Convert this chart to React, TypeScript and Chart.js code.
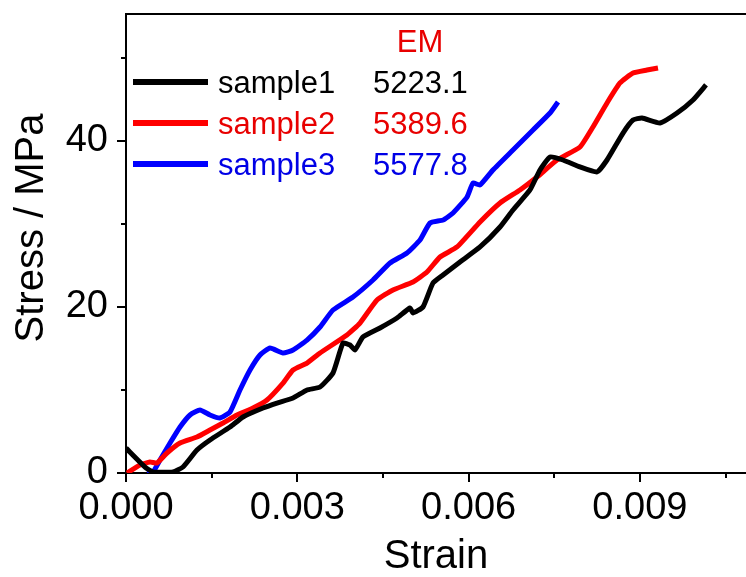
import React, { useEffect, useRef } from 'react';
import { Chart, registerables } from 'chart.js';

Chart.register(...registerables);

const FONT = '"Liberation Sans", Arial, Helvetica, sans-serif';

// sample1 (black)
const s1Strain = [0, 0.000333, 0.000473, 0.000823, 0.000998, 0.001243, 0.001471, 0.001821, 0.002049, 0.002399, 0.002644, 0.002925, 0.00317, 0.003398, 0.003625, 0.0038, 0.003923, 0.00401, 0.004151, 0.004448, 0.004746, 0.004974, 0.005026, 0.005201, 0.005376, 0.005552, 0.005849, 0.0062, 0.00655, 0.006777, 0.007075, 0.00725, 0.007426, 0.007653, 0.007951, 0.008249, 0.008424, 0.008704, 0.008879, 0.009037, 0.009352, 0.00965, 0.00993, 0.010158];
const s1Stress = [3.0, 0.72, 0.12, 0.12, 0.72, 2.77, 3.98, 5.54, 6.75, 7.83, 8.43, 9.04, 10.0, 10.36, 12.05, 15.66, 15.42, 14.82, 16.39, 17.47, 18.67, 19.88, 19.28, 20.0, 22.89, 23.86, 25.42, 27.23, 29.64, 31.69, 34.1, 36.51, 38.07, 37.71, 36.87, 36.27, 37.71, 40.96, 42.53, 42.77, 42.17, 43.37, 44.94, 46.75];

// sample2 (red)
const s2Strain = [0.0000175, 0.000245, 0.00042, 0.000543, 0.000718, 0.000946, 0.001243, 0.001471, 0.001699, 0.001944, 0.002224, 0.002469, 0.00275, 0.002925, 0.00317, 0.003398, 0.00387, 0.004098, 0.004396, 0.004676, 0.005026, 0.005271, 0.005499, 0.005797, 0.0062, 0.00655, 0.0069, 0.007198, 0.007548, 0.007951, 0.008178, 0.008424, 0.008651, 0.008879, 0.009124, 0.009317];
const s2Stress = [0, 0.96, 1.33, 1.2, 2.41, 3.61, 4.34, 5.18, 6.02, 6.99, 7.83, 8.8, 10.84, 12.41, 13.25, 14.46, 16.63, 18.07, 20.84, 22.05, 23.01, 24.22, 26.02, 27.23, 30.24, 32.53, 34.1, 35.66, 37.71, 39.28, 41.69, 44.58, 46.99, 48.19, 48.55, 48.8];

// sample3 (blue)
const s3Strain = [0.000368, 0.000473, 0.000595, 0.000771, 0.000946, 0.001121, 0.001296, 0.001471, 0.001646, 0.001821, 0.001996, 0.002172, 0.002347, 0.002522, 0.00275, 0.002925, 0.00317, 0.003398, 0.003625, 0.003975, 0.004326, 0.004623, 0.004921, 0.005149, 0.005324, 0.005552, 0.005727, 0.005972, 0.006077, 0.0062, 0.006427, 0.006777, 0.007128, 0.007426, 0.007566];
const s3Stress = [0, 0.12, 1.57, 3.61, 5.54, 6.99, 7.59, 6.99, 6.63, 7.35, 10.0, 12.41, 14.22, 15.06, 14.46, 14.82, 16.02, 17.59, 19.64, 21.2, 23.25, 25.3, 26.51, 28.07, 30.12, 30.48, 31.33, 33.25, 34.94, 34.7, 36.51, 38.92, 41.33, 43.37, 44.7];

const sampleLabels = ['sample1', 'sample2', 'sample3'];
const emValues = ['5223.1', '5389.6', '5577.8'];
const emHeader = 'EM';
const lineColors = ['#000000', '#ff0000', '#0000ff'];
const textColors = ['#000000', '#e80000', '#0000e6'];

const xTicks = [0, 0.003, 0.006, 0.009];
const xMinorTicks = [0.0015, 0.0045, 0.0075, 0.0105];
const yTicks = [0, 20, 40];
const yMinorTicks = [10, 30, 50];
const xTitle = 'Strain';
const yTitle = 'Stress / MPa';

const toPoints = (xs: number[], ys: number[]) => xs.map((x, i) => ({ x, y: ys[i] }));

const decorPlugin = {
  id: 'decor',
  afterDraw(chart: any) {
    const { ctx, chartArea: a, scales } = chart;
    const xs = scales.x;
    const ys = scales.y;
    ctx.save();
    ctx.strokeStyle = '#000';
    ctx.lineWidth = 2;
    ctx.beginPath();
    ctx.moveTo(a.left - 1, a.top);
    ctx.lineTo(a.right, a.top);
    xMinorTicks.forEach((v) => {
      const px = Math.round(xs.getPixelForValue(v));
      ctx.moveTo(px, a.bottom);
      ctx.lineTo(px, a.bottom + 5);
    });
    yMinorTicks.forEach((v) => {
      const py = Math.round(ys.getPixelForValue(v));
      ctx.moveTo(a.left, py);
      ctx.lineTo(a.left - 5, py);
    });
    ctx.stroke();

    // legend
    ctx.font = `31px ${FONT}`;
    ctx.textBaseline = 'alphabetic';
    ctx.textAlign = 'center';
    ctx.fillStyle = textColors[1];
    ctx.fillText(emHeader, a.left + 294, a.top + 38);
    sampleLabels.forEach((lab, i) => {
      const yy = a.top + 68 + i * 41;
      ctx.strokeStyle = lineColors[i];
      ctx.lineWidth = 6;
      ctx.beginPath();
      ctx.moveTo(a.left + 7, yy);
      ctx.lineTo(a.left + 82, yy);
      ctx.stroke();
      ctx.fillStyle = textColors[i];
      ctx.textAlign = 'left';
      ctx.fillText(lab, a.left + 92, yy + 11);
      ctx.fillText(emValues[i], a.left + 247, yy + 11);
    });

    // axis titles
    ctx.fillStyle = '#000';
    ctx.font = `40px ${FONT}`;
    ctx.textAlign = 'center';
    ctx.textBaseline = 'alphabetic';
    ctx.fillText(xTitle, (a.left + a.right) / 2, 568);
    ctx.translate(43, 228);
    ctx.rotate(-Math.PI / 2);
    ctx.fillText(yTitle, 0, 0);
    ctx.restore();
  },
};

export default function App() {
  const ref = useRef<HTMLCanvasElement | null>(null);
  useEffect(() => {
    if (!ref.current) return;
    const datasets = [
      toPoints(s1Strain, s1Stress),
      toPoints(s2Strain, s2Stress),
      toPoints(s3Strain, s3Stress),
    ].map((data, i) => ({
      label: sampleLabels[i],
      data,
      borderColor: lineColors[i],
      backgroundColor: lineColors[i],
      borderWidth: 5,
      pointRadius: 0,
      tension: 0.15,
      fill: false,
    }));
    const chart = new Chart(ref.current, {
      type: 'line',
      data: { datasets },
      options: {
        animation: false,
        responsive: false,
        maintainAspectRatio: false,
        layout: { padding: { left: 0, top: 14, right: 0, bottom: 0 } },
        plugins: { legend: { display: false }, tooltip: { enabled: false } },
        scales: {
          x: {
            type: 'linear',
            min: 0,
            max: 0.010858,
            afterBuildTicks: (s: any) => {
              s.ticks = xTicks.map((v) => ({ value: v }));
            },
            afterFit: (s: any) => {
              s.height = 104;
              s.paddingLeft = 0;
              s.paddingRight = 0;
              s.paddingTop = 0;
              s.paddingBottom = 0;
            },
            ticks: {
              color: '#000',
              font: { family: FONT, size: 38, lineHeight: 1.2 },
              padding: 4,
              maxRotation: 0,
              autoSkip: false,
              callback: (v: any) => Number(v).toFixed(3),
            },
            grid: {
              display: true,
              drawOnChartArea: false,
              drawTicks: true,
              tickLength: 9,
              tickWidth: 2,
              tickColor: '#000',
              color: '#000',
              lineWidth: 2,
            },
            border: { display: true, color: '#000', width: 2 },
          },
          y: {
            type: 'linear',
            min: 0,
            max: 55.3,
            afterBuildTicks: (s: any) => {
              s.ticks = yTicks.map((v) => ({ value: v }));
            },
            afterFit: (s: any) => {
              s.width = 126;
              s.paddingLeft = 0;
              s.paddingRight = 0;
              s.paddingTop = 0;
              s.paddingBottom = 0;
            },
            ticks: {
              color: '#000',
              font: { family: FONT, size: 38, lineHeight: 1.2 },
              padding: 9,
              autoSkip: false,
              callback: (v: any) => String(v),
            },
            grid: {
              display: true,
              drawOnChartArea: false,
              drawTicks: true,
              tickLength: 9,
              tickWidth: 2,
              tickColor: '#000',
              color: '#000',
              lineWidth: 2,
            },
            border: { display: true, color: '#000', width: 2 },
          },
        },
      },
      plugins: [decorPlugin],
    });
    return () => chart.destroy();
  }, []);
  return (
    <div style={{ position: 'fixed', left: 0, top: 0, width: 746, height: 577, background: '#fff' }}>
      <canvas ref={ref} width={746} height={577} style={{ width: 746, height: 577, display: 'block' }} />
    </div>
  );
}
